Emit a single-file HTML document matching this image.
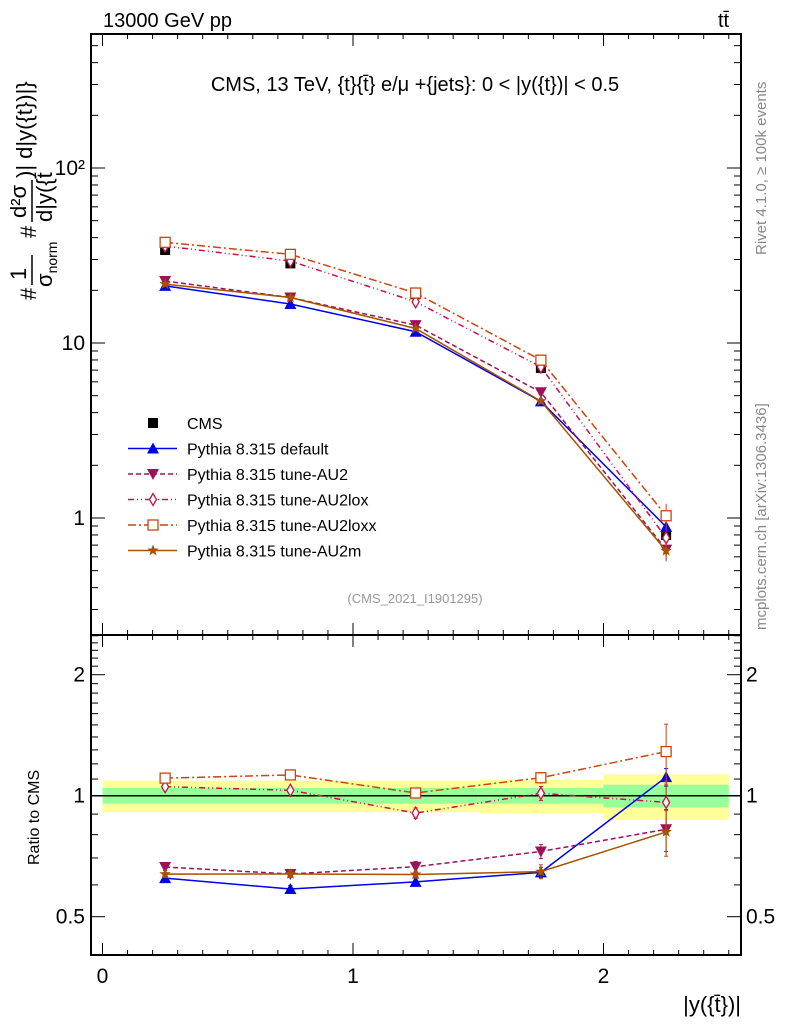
<!DOCTYPE html>
<html><head><meta charset="utf-8">
<style>
html,body{margin:0;padding:0;background:#fff;}
svg{display:block;font-family:"Liberation Sans",sans-serif;}
</style></head>
<body>
<svg id="c" width="786" height="1024" viewBox="0 0 786 1024" xmlns="http://www.w3.org/2000/svg">
<text x="103" y="27" font-size="20">13000 GeV pp</text>
<text x="718" y="27" font-size="20">tt̄</text>
<text x="415" y="91" font-size="20" text-anchor="middle">CMS, 13 TeV, {t}{t̄} e/μ +{jets}: 0 &lt; |y({t})| &lt; 0.5</text>
<text transform="translate(766,255) rotate(-90)" font-size="15" fill="#888">Rivet 4.1.0, ≥ 100k events</text>
<text transform="translate(766,630) rotate(-90)" font-size="15" fill="#888">mcplots.cern.ch [arXiv:1306.3436]</text>
<text x="415" y="603" font-size="13" fill="#999" text-anchor="middle">(CMS_2021_I1901295)</text>
<g transform="translate(36,300) rotate(-90)" font-size="22">
<text x="0" y="0">#</text>
<text x="20" y="-10">1</text>
<line x1="15" y1="-4" x2="45" y2="-4" stroke="#000" stroke-width="1.5"/>
<text x="13" y="16">σ<tspan font-size="14" dy="5">norm</tspan></text>
<text x="62" y="0">#</text>
<text x="82" y="-10">d²σ</text>
<line x1="78" y1="-4" x2="120" y2="-4" stroke="#000" stroke-width="1.5"/>
<text x="78" y="16">d|y({t̄</text>
<text x="122" y="-4">)| d|y({t})|}</text>
</g>
<text transform="translate(39,865) rotate(-90)" font-size="16">Ratio to CMS</text>
<text x="741" y="1012" font-size="22" text-anchor="end">|y({t̄})|</text>
<g id="g"></g>
</svg>
<script>
const xCenters=[0.25,0.75,1.25,1.75,2.25];
const binEdges=[0,0.5,1,1.5,2,2.5];
const cmsValues=[34,28.5,19,7.2,0.8];
const statErr=[0.045,0.045,0.045,0.045,0.065];
const totErr=[0.09,0.09,0.09,0.095,0.13];
const defaultValues=[21.2,16.7,11.6,4.64,0.89];
const au2Values=[22.6,18.2,12.65,5.23,0.66];
const au2loxValues=[35.8,29.4,17.2,7.3,0.77];
const au2loxxValues=[37.6,32.1,19.3,7.98,1.03];
const au2mValues=[21.7,18.2,12.1,4.66,0.65];
const defaultErr=[0.02,0.02,0.02,0.03,0.05];
const au2Err=[0.02,0.02,0.03,0.04,0.12];
const au2loxErr=[0.02,0.02,0.03,0.04,0.13];
const au2loxxErr=[0.01,0.01,0.02,0.03,0.17];
const au2mErr=[0.02,0.02,0.02,0.04,0.13];
const mainTicks=[1,10,100];
const mainTickLabels=["1","10","10²"];
const ratioTicks=[0.5,1,2];
const ratioTickLabels=["0.5","1","2"];
const xTicks=[0,1,2];
const xTickLabels=["0","1","2"];

const L=91,R=741,T=34,MB=635,RB=955;
const X=v=>102.5+v*250.5;
const YM=v=>518-175*Math.log10(v);
const YR=v=>795.7-121*Math.log2(v);
const NS="http://www.w3.org/2000/svg";
const g=document.getElementById('g');
function mk(tag,attrs,parent){const e=document.createElementNS(NS,tag);for(const k in attrs)e.setAttribute(k,attrs[k]);(parent||g).appendChild(e);return e;}

for(let i=0;i<5;i++){
  const x1=X(binEdges[i]),x2=X(binEdges[i+1]);
  const y=mk('rect',{x:x1,y:YR(1+totErr[i]),width:x2-x1,height:YR(1-totErr[i])-YR(1+totErr[i]),fill:'#ffff99'});
  
  
  const gr=mk('rect',{x:x1,y:YR(1+statErr[i]),width:x2-x1,height:YR(1-statErr[i])-YR(1+statErr[i]),fill:'#99ff99'});
  
  
}
const one=mk('line',{x1:L,x2:R,y1:YR(1),y2:YR(1),stroke:'#000','stroke-width':1.5});



const f1=mk('rect',{x:L,y:T,width:R-L,height:MB-T,fill:'none',stroke:'#000','stroke-width':2});


const f2=mk('rect',{x:L,y:MB,width:R-L,height:RB-MB,fill:'none',stroke:'#000','stroke-width':2});



for(let k=0;k<=25;k++){
  const v=k/10, x=X(v), major=(k%10===0), len=major?12:5;
  [T,MB].forEach(t=>{mk('line',{x1:x,x2:x,y1:t,y2:t+len,stroke:'#000','stroke-width':1});});
  [MB,RB].forEach(b=>{mk('line',{x1:x,x2:x,y1:b,y2:b-len,stroke:'#000','stroke-width':1});});
}
xTicks.forEach((v,i)=>{const t=mk('text',{x:X(v),y:RB+28,'font-size':21,'text-anchor':'middle'});t.textContent=xTickLabels[i];

});

for(let d=-1;d<=2;d++){for(let m=1;m<=9;m++){const v=m*Math.pow(10,d);const y=YM(v);if(y<T||y>MB)continue;const len=m===1?14:7;
mk('line',{x1:L,x2:L+len,y1:y,y2:y,stroke:'#000'});mk('line',{x1:R,x2:R-len,y1:y,y2:y,stroke:'#000'});}}
mainTicks.forEach((v,i)=>{const t=mk('text',{x:L-6,y:YM(v)+7,'font-size':21,'text-anchor':'end'});t.textContent=mainTickLabels[i];

});

for(let k=4;k<=25;k++){const v=k/10;const y=YR(v);if(y<MB||y>RB)continue;const major=(k===5||k===10||k===20);const len=major?14:7;
mk('line',{x1:L,x2:L+len,y1:y,y2:y,stroke:'#000'});mk('line',{x1:R,x2:R-len,y1:y,y2:y,stroke:'#000'});}
ratioTicks.forEach((v,i)=>{const t=mk('text',{x:L-6,y:YR(v)+7,'font-size':21,'text-anchor':'end'});t.textContent=ratioTickLabels[i];


const t2=mk('text',{x:R+5,y:YR(v)+7,'font-size':21});t2.textContent=ratioTickLabels[i];

});

function marker(type,x,y,color,s,parent){
  if(type==='sq')return mk('rect',{x:x-5,y:y-5,width:10,height:10,fill:'#000'},parent);
  if(type==='tu')return mk('polygon',{points:`${x},${y-6} ${x-6},${y+5} ${x+6},${y+5}`,fill:color},parent);
  if(type==='td')return mk('polygon',{points:`${x},${y+6} ${x-6},${y-5} ${x+6},${y-5}`,fill:color},parent);
  if(type==='di')return mk('polygon',{points:`${x},${y-6} ${x-3.5},${y} ${x},${y+6} ${x+3.5},${y}`,fill:'#fff',stroke:color,'stroke-width':1.3},parent);
  if(type==='os')return mk('rect',{x:x-5,y:y-5,width:10,height:10,fill:'#fff',stroke:color,'stroke-width':1.3},parent);
  if(type==='st'){let p=[];for(let i=0;i<10;i++){const r=i%2?2.5:6,a=-Math.PI/2+i*Math.PI/5;p.push((x+r*Math.cos(a)).toFixed(1)+','+(y+r*Math.sin(a)).toFixed(1));}return mk('polygon',{points:p.join(' '),fill:color},parent);}
}

const series=[
 {name:'default',label:'Pythia 8.315 default',vals:defaultValues,err:defaultErr,color:'#0000ee',dash:'',m:'tu'},
 {name:'tune-au2',label:'Pythia 8.315 tune-AU2',vals:au2Values,err:au2Err,color:'#a0105a',dash:'5,3',m:'td'},
 {name:'tune-au2lox',label:'Pythia 8.315 tune-AU2lox',vals:au2loxValues,err:au2loxErr,color:'#c8104a',dash:'6,3,1,3,1,3',m:'di'},
 {name:'tune-au2loxx',label:'Pythia 8.315 tune-AU2loxx',vals:au2loxxValues,err:au2loxxErr,color:'#cc4411',dash:'8,3,2,3',m:'os'},
 {name:'tune-au2m',label:'Pythia 8.315 tune-AU2m',vals:au2mValues,err:au2mErr,color:'#a65200',dash:'',m:'st'}
];

xCenters.forEach((x,i)=>{const m=marker('sq',X(x),YM(cmsValues[i]));

});

series.forEach(s=>{
  const gm=mk('g',{});
  
  
  const pm=xCenters.map((x,i)=>X(x)+','+YM(s.vals[i])).join(' ');
  mk('polyline',{points:pm,fill:'none',stroke:s.color,'stroke-width':1.5,'stroke-dasharray':s.dash},gm);
  const pr=xCenters.map((x,i)=>X(x)+','+YR(s.vals[i]/cmsValues[i])).join(' ');
  mk('polyline',{points:pr,fill:'none',stroke:s.color,'stroke-width':1.5,'stroke-dasharray':s.dash},gm);
  xCenters.forEach((x,i)=>{
    const v=s.vals[i],e=s.err[i],r=v/cmsValues[i];
    mk('line',{x1:X(x),x2:X(x),y1:YM(v*(1+e)),y2:YM(v*(1-e)),stroke:s.color},gm);
    mk('line',{x1:X(x),x2:X(x),y1:YR(r*(1+e)),y2:YR(r*(1-e)),stroke:s.color},gm);
    [r*(1+e),r*(1-e)].forEach(q=>mk('line',{x1:X(x)-2,x2:X(x)+2,y1:YR(q),y2:YR(q),stroke:s.color},gm));
    const a=marker(s.m,X(x),YM(v),s.color,0,gm);
    
    
    const b=marker(s.m,X(x),YR(r),s.color,0,gm);
    
    
  });
});

const lg=mk('g',{});


const le0=mk('g',{},lg);


marker('sq',153,423,'#000',0,le0);
const t0=mk('text',{x:187,y:429,'font-size':16},le0);t0.textContent='CMS';
series.forEach((s,i)=>{
  const y=448.5+i*25.5;
  const le=mk('g',{},lg);
  
  
  mk('line',{x1:128,x2:177,y1:y,y2:y,stroke:s.color,'stroke-width':1.4,'stroke-dasharray':s.dash},le);
  marker(s.m,153,y,s.color,0,le);
  const t=mk('text',{x:187,y:y+6,'font-size':16},le);t.textContent=s.label;
});
</script>
</body></html>
